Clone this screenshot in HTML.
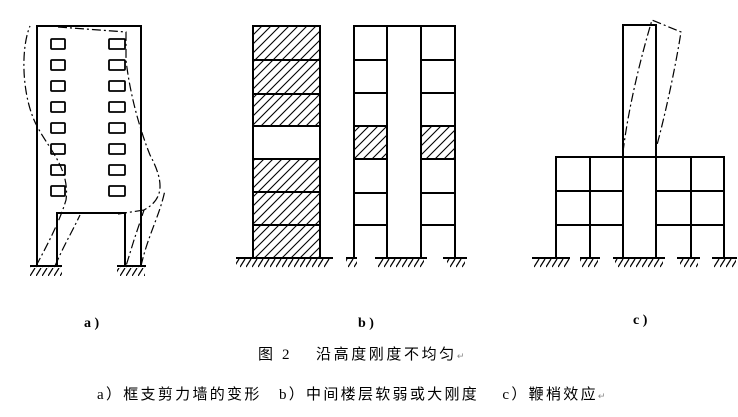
<!DOCTYPE html>
<html><head><meta charset="utf-8"><style>
html,body{margin:0;padding:0;background:#fff;}
svg{display:block}
text{font-family:"Liberation Serif","Noto Serif CJK SC",serif;fill:#000}
.cj{font-family:"Liberation Serif","Noto Sans CJK SC",sans-serif}
</style></head><body>
<svg width="738" height="417" viewBox="0 0 738 417" xmlns="http://www.w3.org/2000/svg">
<defs>
<pattern id="h" patternUnits="userSpaceOnUse" width="9" height="9">
<path d="M-2,11 L11,-2 M-2,2 L2,-2 M7,11 L11,7" stroke="#000" stroke-width="1.1"/>
</pattern>
<pattern id="g" patternUnits="userSpaceOnUse" width="6" height="9" x="0" y="259">
<path d="M5,0 L0,8" stroke="#000" stroke-width="1.2"/>
</pattern>
</defs>
<g fill="none" stroke="#000" stroke-width="2">
<path d="M37,266 V26 H141 V266 M57,266 V213 H125 V266"/>
<g stroke-width="1.8">
<rect x="51" y="39" width="14" height="10" rx="1"/><rect x="51" y="60" width="14" height="10" rx="1"/>
<rect x="51" y="81" width="14" height="10" rx="1"/><rect x="51" y="102" width="14" height="10" rx="1"/>
<rect x="51" y="123" width="14" height="10" rx="1"/><rect x="51" y="144" width="14" height="10" rx="1"/>
<rect x="51" y="165" width="14" height="10" rx="1"/><rect x="51" y="186" width="14" height="10" rx="1"/>
<rect x="109" y="39" width="16" height="10" rx="1"/><rect x="109" y="60" width="16" height="10" rx="1"/>
<rect x="109" y="81" width="16" height="10" rx="1"/><rect x="109" y="102" width="16" height="10" rx="1"/>
<rect x="109" y="123" width="16" height="10" rx="1"/><rect x="109" y="144" width="16" height="10" rx="1"/>
<rect x="109" y="165" width="16" height="10" rx="1"/><rect x="109" y="186" width="16" height="10" rx="1"/>
</g>
<path d="M30,266 H62 M117,266 H146" />
<rect x="253" y="26" width="67" height="232"/>
<path d="M253,60 H320 M253,94 H320 M253,126 H320 M253,159 H320 M253,192 H320 M253,225 H320"/>
<path d="M236,258 H333"/>
<path d="M354,258 V26 H455 V258 M387,258 V26 M421,258 V26"/>
<path d="M354,60 H387 M354,93 H387 M354,126 H387 M354,159 H387 M354,193 H387 M354,225 H387"/>
<path d="M421,60 H455 M421,93 H455 M421,126 H455 M421,159 H455 M421,193 H455 M421,225 H455"/>
<path d="M346,258 H357 M375,258 H427 M443,258 H467"/>
<path d="M623,258 V25 H656 V258"/>
<path d="M556,258 V157 H724 V258 M590,258 V157 M691,258 V157"/>
<path d="M556,191 H623 M556,225 H623 M656,191 H724 M656,225 H724"/>
<path d="M532,258 H570 M580,258 H600 M613,258 H665 M677,258 H700 M712,258 H737"/>
</g>
<g fill="url(#h)" stroke="none">
<rect x="254" y="27" width="65" height="32"/><rect x="254" y="61" width="65" height="32"/>
<rect x="254" y="95" width="65" height="30"/><rect x="254" y="160" width="65" height="31"/>
<rect x="254" y="193" width="65" height="31"/><rect x="254" y="226" width="65" height="31"/>
<rect x="355" y="127" width="31" height="31"/><rect x="422" y="127" width="32" height="31"/>
</g>
<g fill="url(#g)" stroke="none">
<rect x="30" y="267" width="32" height="9"/><rect x="117" y="267" width="28" height="9"/>
<rect x="236" y="259" width="94" height="9"/>
<rect x="346" y="259" width="11" height="9"/><rect x="378" y="259" width="46" height="9"/><rect x="447" y="259" width="18" height="9"/>
<rect x="534" y="259" width="36" height="9"/><rect x="580" y="259" width="18" height="9"/><rect x="615" y="259" width="48" height="9"/><rect x="680" y="259" width="18" height="9"/><rect x="714" y="259" width="22" height="9"/>
</g>
<g fill="none" stroke="#000" stroke-width="1.2" stroke-dasharray="9,3,2,3">
<path d="M36,266 C50,240 60,220 66,200 C70,170 50,150 38,128 C22,100 20,50 30,26 M55,266 C64,245 72,232 80,215"/>
<path d="M58,27 L126,32 L126,60 C130,95 140,130 150,155 C166,185 162,200 144,210 L134,240 L126,266 M118,214 L144,210 M141,266 C148,235 160,215 165,190"/>
<path d="M623,152 C628,110 640,60 652,20 L681,32 C675,70 665,115 657,145"/>
</g>
<text x="84" y="327" font-size="14" font-weight="bold">a )</text>
<text x="358" y="327" font-size="14" font-weight="bold">b )</text>
<text x="633" y="324" font-size="14" font-weight="bold">c )</text>
<text class="cj" x="258" y="359" font-size="15" letter-spacing="2.6">图 2　 沿高度刚度不均匀<tspan font-size="9" fill="#888">↵</tspan></text>
<text class="cj" x="97" y="399" font-size="15" letter-spacing="2.3">a）框支剪力墙的变形　b）中间楼层软弱或大刚度　 c）鞭梢效应<tspan font-size="9" fill="#888">↵</tspan></text>
</svg>
</body></html>
